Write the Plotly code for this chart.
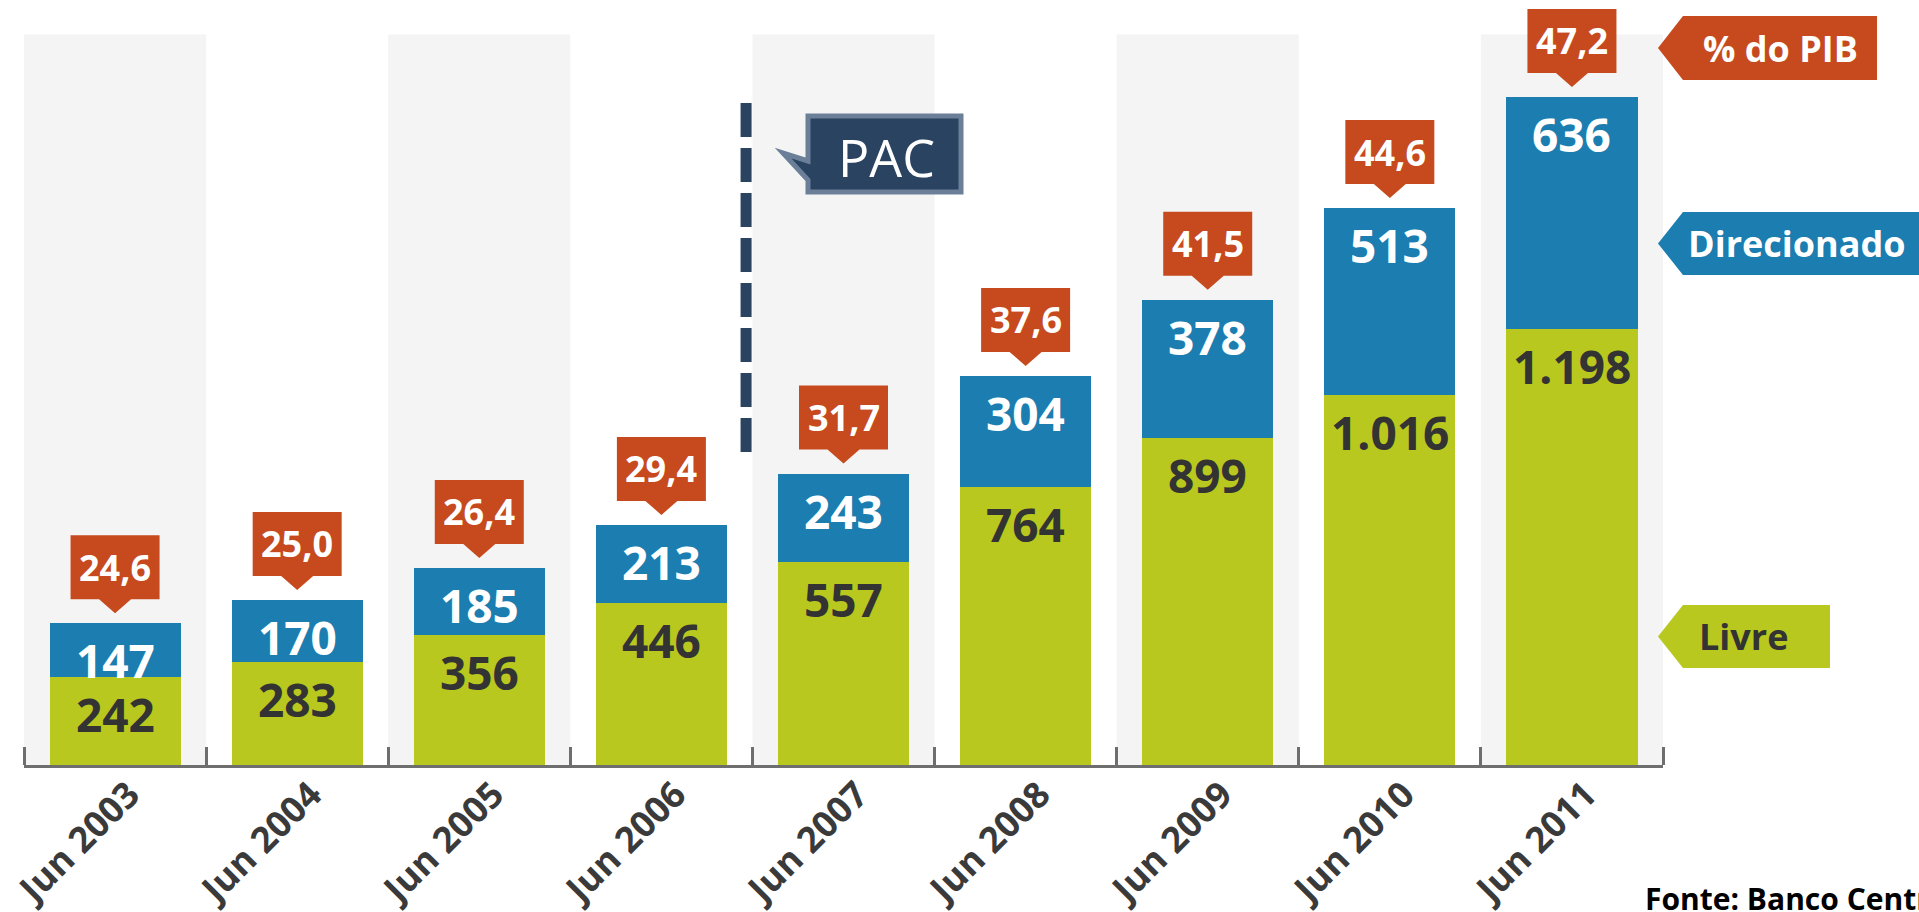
import plotly.graph_objects as go

# ---------------- data ----------------
categories = ["Jun 2003", "Jun 2004", "Jun 2005", "Jun 2006", "Jun 2007",
              "Jun 2008", "Jun 2009", "Jun 2010", "Jun 2011"]
livre = [242, 283, 356, 446, 557, 764, 899, 1016, 1198]
direcionado = [147, 170, 185, 213, 243, 304, 378, 513, 636]
pib = [24.6, 25.0, 26.4, 29.4, 31.7, 37.6, 41.5, 44.6, 47.2]
legend_labels = ["% do PIB", "Direcionado", "Livre"]
pac_label = "PAC"
source_text = "Fonte: Banco Central"

# ---------------- style ----------------
GREEN = "#b8c81e"
BLUE = "#1b7db0"
ORANGE = "#c64a1e"
NAVY = "#2a4360"
NAVY_EDGE = "#6b7f99"
DARK = "#333333"
COL_BG = "#f4f4f4"
AXIS = "#6e6e6e"
FONT = "Open Sans"

W, H = 1919, 912
ML, MR, MT, MB = 24, 256, 0, 147
PW = W - ML - MR
PH = H - MT - MB
YMAX = 2100


def px(x):
    return (x - ML) / PW


def py(y):
    return (H - MB - y) / PH


def fmt_int(v):
    return f"{v:,}".replace(",", ".")


def fmt_pct(v):
    return f"{v:.1f}".replace(".", ",")


totals = [a + b for a, b in zip(livre, direcionado)]
idx = list(range(len(categories)))

fig = go.Figure()
fig.add_trace(go.Bar(x=idx, y=livre, marker=dict(color=GREEN, line=dict(width=0)),
                     width=0.72, name="Livre", hoverinfo="skip"))
fig.add_trace(go.Bar(x=idx, y=direcionado, marker=dict(color=BLUE, line=dict(width=0)),
                     width=0.72, name="Direcionado", hoverinfo="skip"))

shapes = []
annotations = []

# alternating background columns
for i in idx:
    if i % 2 == 0:
        shapes.append(dict(type="rect", xref="x", yref="y", x0=i - 0.5, x1=i + 0.5,
                           y0=0, y1=2005, fillcolor=COL_BG, line=dict(width=0),
                           layer="below"))

# segment value labels
for i in idx:
    annotations.append(dict(x=i, y=livre[i], xref="x", yref="y", text=fmt_int(livre[i]),
                            showarrow=False, yshift=-37, yanchor="middle",
                            font=dict(family=FONT, size=46, color=DARK, weight="bold")))
    annotations.append(dict(x=i, y=totals[i], xref="x", yref="y", text=fmt_int(direcionado[i]),
                            showarrow=False, yshift=-37, yanchor="middle",
                            font=dict(family=FONT, size=46, color="white", weight="bold")))

# % do PIB callouts
callout_path = ("M -44.5,24 L -16,24 L 0,10 L 16,24 L 44.5,24 "
                "L 44.5,88 L -44.5,88 Z")
for i in idx:
    shapes.append(dict(type="path", xref="x", yref="y", xsizemode="pixel",
                       ysizemode="pixel", xanchor=i, yanchor=totals[i],
                       path=callout_path, fillcolor=ORANGE, line=dict(width=0)))
    annotations.append(dict(x=i, y=totals[i], xref="x", yref="y", text=fmt_pct(pib[i]),
                            showarrow=False, yshift=56, yanchor="middle",
                            font=dict(family=FONT, size=36, color="white", weight="bold")))

# PAC dashed line
shapes.append(dict(type="line", xref="x", yref="paper", x0=3.465, x1=3.465,
                   y0=py(103), y1=py(454),
                   line=dict(color=NAVY, width=11, dash="34px,11px")))

# PAC callout box
pac_pts = [(808, 116), (961, 116), (961, 192), (808, 192), (808, 180), (783, 153), (808, 161)]
pac_path = "M " + " L ".join(f"{px(x):.5f},{py(y):.5f}" for x, y in pac_pts) + " Z"
shapes.append(dict(type="path", xref="paper", yref="paper", path=pac_path,
                   fillcolor=NAVY, line=dict(color=NAVY_EDGE, width=5)))
annotations.append(dict(x=px(886), y=py(156), xref="paper", yref="paper", text=pac_label,
                        showarrow=False, xanchor="center", yanchor="middle",
                        font=dict(family=FONT, size=52, color="white")))

# right-hand legend tags
tags = [
    (legend_labels[0], ORANGE, "white", 1683, 1877, 16, 80, 1780),
    (legend_labels[1], BLUE, "white", 1683, 1935, 212, 275, 1797),
    (legend_labels[2], GREEN, DARK, 1683, 1830, 605, 668, 1743),
]
for label, fill, tcol, x0, x1, y0, y1, tx in tags:
    ym = (y0 + y1) / 2
    pts = [(x0, y0), (x1, y0), (x1, y1), (x0, y1), (x0 - 25, ym)]
    path = "M " + " L ".join(f"{px(x):.5f},{py(y):.5f}" for x, y in pts) + " Z"
    shapes.append(dict(type="path", xref="paper", yref="paper", path=path,
                       fillcolor=fill, line=dict(width=0)))
    annotations.append(dict(x=px(tx), y=py(ym), xref="paper", yref="paper", text=label,
                            showarrow=False, xanchor="center", yanchor="middle",
                            font=dict(family=FONT, size=36, color=tcol, weight="bold")))

# source
annotations.append(dict(x=px(1643), y=py(921), xref="paper", yref="paper", text=source_text,
                        showarrow=False, xanchor="left", yanchor="bottom",
                        font=dict(family=FONT, size=30, color="black", weight="bold")))

fig.update_layout(
    width=W, height=H, autosize=False,
    margin=dict(l=ML, r=MR, t=MT, b=MB, pad=0, autoexpand=False),
    barmode="stack", showlegend=False,
    plot_bgcolor="white", paper_bgcolor="white",
    shapes=shapes, annotations=annotations,
    bargap=0.28,
)
fig.update_xaxes(
    type="linear", range=[-0.5, len(categories) - 0.5],
    tickmode="array", tickvals=idx, ticktext=categories,
    tickangle=-45, tickfont=dict(family=FONT, size=36, color="#3a3a3a", weight="bold"),
    ticklabeloverflow="allow", ticklabelshift=14, ticklabelstandoff=-9,
    automargin=False,
    showline=True, linecolor=AXIS, linewidth=3,
    ticks="", showgrid=False, zeroline=False, layer="below traces",
)
# boundary ticks via minor ticks
fig.update_xaxes(minor=dict(tickmode="array",
                            tickvals=[i - 0.5 for i in idx] + [len(categories) - 0.5],
                            ticks="inside", ticklen=18, tickwidth=3, tickcolor=AXIS,
                            showgrid=False))
fig.update_yaxes(range=[0, YMAX], visible=False, showgrid=False, zeroline=False,
                 automargin=False)

fig.write_html("out.html", config={"displayModeBar": False},
               post_script="document.body.style.margin='0';document.body.style.overflow='hidden';")
